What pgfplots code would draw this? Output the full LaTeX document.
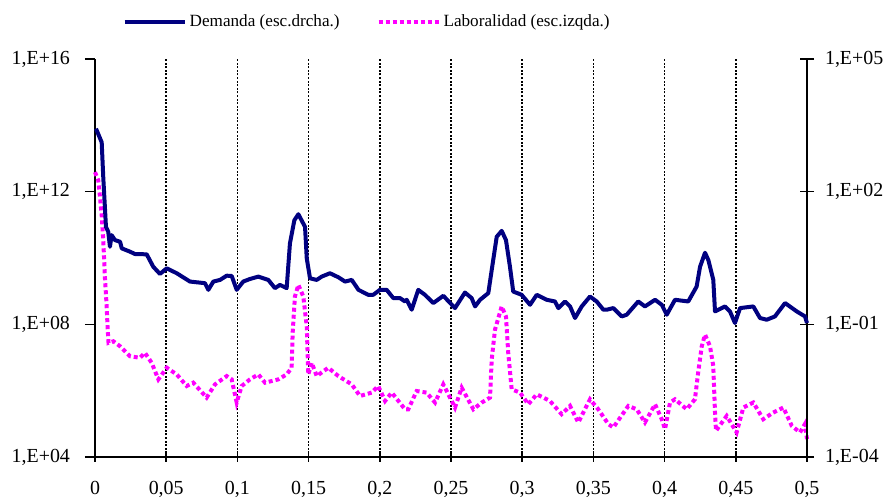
\documentclass[border=0pt]{standalone}
\usepackage{pgfplots}
\pgfplotsset{compat=1.18}
\usepackage{fontspec}
\setmainfont{Liberation Serif}
\definecolor{navyc}{RGB}{0,0,128}
\definecolor{magc}{RGB}{255,0,255}
\pgfplotstableread{
x y
0.0000 3.88e12
0.0023 2.19e12
0.0035 6.90e11
0.0047 1.95e11
0.0058 3.47e10
0.0070 2.46e9
0.0082 3.46e8
0.0088 8.69e7
0.0095 2.76e7
0.0129 3.08e7
0.0176 2.18e7
0.0246 1.09e7
0.0316 9.79e6
0.0351 1.38e7
0.0398 6.93e6
0.0445 2.19e6
0.0504 4.91e6
0.0574 3.09e6
0.0644 1.38e6
0.0690 1.74e6
0.0784 6.18e5
0.0843 1.55e6
0.0925 2.75e6
0.0960 2.19e6
0.0995 4.38e5
0.1030 1.38e6
0.1088 2.19e6
0.1147 3.09e6
0.1194 1.74e6
0.1241 1.95e6
0.1287 2.19e6
0.1346 3.09e6
0.1381 4.91e6
0.1388 5.51e7
0.1404 6.90e8
0.1428 1.55e9
0.1463 6.90e8
0.1487 8.69e7
0.1498 3.09e6
0.1522 6.93e6
0.1557 2.75e6
0.1638 4.91e6
0.1709 2.75e6
0.1803 1.55e6
0.1861 6.90e5
0.1943 8.73e5
0.1989 1.38e6
0.2037 4.89e5
0.2084 8.73e5
0.2177 2.75e5
0.2200 2.75e5
0.2259 9.75e5
0.2329 8.73e5
0.2388 4.38e5
0.2446 1.55e6
0.2528 3.10e5
0.2575 1.23e6
0.2657 2.75e5
0.2716 4.38e5
0.2774 6.18e5
0.2786 8.71e6
0.2809 6.92e7
0.2856 3.46e8
0.2886 1.73e8
0.2902 1.38e7
0.2926 1.10e6
0.2985 8.73e5
0.3043 3.89e5
0.3102 7.76e5
0.3195 4.89e5
0.3277 1.95e5
0.3336 3.46e5
0.3394 1.10e5
0.3476 5.50e5
0.3534 2.75e5
0.3605 9.77e4
0.3640 7.78e4
0.3745 3.46e5
0.3804 2.75e5
0.3862 1.10e5
0.3933 3.89e5
0.3980 1.38e5
0.4003 6.92e4
0.4038 4.38e5
0.4073 5.50e5
0.4155 2.75e5
0.4213 5.50e5
0.4237 3.88e6
0.4261 2.18e7
0.4284 4.90e7
0.4319 2.18e7
0.4342 5.48e6
0.4354 2.19e5
0.4361 6.15e4
0.4436 1.73e5
0.4471 9.77e4
0.4506 5.51e4
0.4553 3.10e5
0.4623 4.38e5
0.4693 1.38e5
0.4763 2.19e5
0.4834 3.10e5
0.4893 8.69e4
0.4951 5.51e4
0.4985 9.77e4
0.5000 3.47e4
}\laboralidad
\pgfplotstableread{
x y
0.0007 2660
0.0047 1310
0.0058 213
0.0077 16.0
0.0093 12.4
0.0105 5.68
0.0117 10.4
0.0140 8.04
0.0176 7.36
0.0188 5.22
0.0246 4.39
0.0281 3.89
0.0363 3.83
0.0409 2.01
0.0456 1.38
0.0504 1.85
0.0574 1.43
0.0667 0.927
0.0772 0.853
0.0796 0.603
0.0831 0.927
0.0878 1.01
0.0925 1.26
0.0960 1.24
0.0995 0.603
0.1041 0.927
0.1088 1.06
0.1147 1.20
0.1217 1.01
0.1264 0.658
0.1299 0.780
0.1346 0.658
0.1369 6.78
0.1400 22.6
0.1428 30.9
0.1475 16.0
0.1487 3.11
0.1510 1.10
0.1557 1.01
0.1592 1.20
0.1650 1.43
0.1709 1.16
0.1756 0.927
0.1803 1.01
0.1850 0.603
0.1919 0.465
0.1954 0.465
0.2001 0.603
0.2048 0.603
0.2095 0.392
0.2142 0.392
0.2177 0.329
0.2189 0.359
0.2224 0.214
0.2270 0.603
0.2317 0.465
0.2376 0.303
0.2446 0.442
0.2528 0.233
0.2598 0.524
0.2645 0.392
0.2669 0.254
0.2704 0.359
0.2762 0.508
0.2786 1.70
0.2821 9.53
0.2856 13.0
0.2886 8.04
0.2914 2.01
0.2937 0.552
0.2996 0.465
0.3055 0.277
0.3102 0.465
0.3172 0.359
0.3230 0.329
0.3254 0.233
0.3301 0.329
0.3336 0.254
0.3371 0.139
0.3418 0.254
0.3476 0.426
0.3523 0.329
0.3570 0.214
0.3593 0.214
0.3640 0.233
0.3699 0.151
0.3734 0.165
0.3815 0.329
0.3862 0.254
0.3933 0.359
0.3980 0.277
0.4015 0.165
0.4073 0.359
0.4166 0.329
0.4225 0.715
0.4249 2.01
0.4284 4.16
0.4307 2.85
0.4342 1.01
0.4354 0.196
0.4424 0.254
0.4459 0.196
0.4494 0.107
0.4530 0.233
0.4623 0.254
0.4670 0.139
0.4717 0.127
0.4775 0.151
0.4846 0.303
0.4928 0.196
0.4986 0.151
0.5000 0.107
}\demanda
\begin{document}
\begin{tikzpicture}
\useasboundingbox (-47.5bp,-21.5bp) rectangle (398bp,228.5bp);
\begin{axis}[
  at={(0,0)}, anchor=south west,
  scale only axis, width=356bp, height=199bp,
  xmin=0, xmax=0.5,
  ymode=log, ymin=1e4, ymax=1e16,
  axis x line*=bottom, axis y line*=left,
  axis line style={-, line width=0.8bp, black},
  xtick={0,0.05,0.1,0.15,0.2,0.25,0.3,0.35,0.4,0.45,0.5},
  xticklabels={0,{0,05},{0,1},{0,15},{0,2},{0,25},{0,3},{0,35},{0,4},{0,45},{0,5}},
  ytick={1e4,1e8,1e12,1e16},
  yticklabels={{1,E+04},{1,E+08},{1,E+12},{1,E+16}},
  yminorticks=false, xminorticks=false,
  xtick align=center, ytick align=outside,
  major tick length=5bp,
  tick style={black, line width=0.8bp},
  xmajorgrids,
  grid style={black, line width=0.75bp, dash pattern=on 1bp off 0.8bp},
  xticklabel style={yshift=-6bp},
  yticklabel style={xshift=-4bp},
  clip=false,
]
\addplot[magc, line width=2bp, dash pattern=on 2bp off 1.5bp] table[x=x,y=y] {\laboralidad};
\end{axis}
\begin{axis}[
  at={(0,0)}, anchor=south west,
  scale only axis, width=356bp, height=199bp,
  xmin=0, xmax=0.5,
  ymode=log, ymin=1e-4, ymax=1e5,
  axis x line=none, axis y line*=right,
  axis line style={-, line width=0.8bp, black},
  ytick={1e-4,1e-1,1e2,1e5},
  yticklabels={{1,E-04},{1,E-01},{1,E+02},{1,E+05}},
  yminorticks=false,
  ytick align=center,
  major tick length=7bp,
  tick style={black, line width=0.8bp},
  yticklabel style={xshift=2bp},
  clip=false,
  legend columns=2,
  legend style={draw=none, fill=none, at={(0.383,1.093)}, anchor=center,
    font=\fontsize{8.6}{10}\selectfont,
    /tikz/every even column/.append style={column sep=17bp},
    nodes={inner sep=1.5bp}},
  legend image code/.code={\draw[#1] (0bp,0bp) -- (30bp,0bp);},
]
\addplot[navyc, line width=2bp, line join=round] table[x=x,y=y] {\demanda};
\addlegendentry{Demanda (esc.drcha.)}
\addlegendimage{magc, line width=2bp, dash pattern=on 2bp off 1.5bp}
\addlegendentry{Laboralidad (esc.izqda.)}
\end{axis}
\end{tikzpicture}
\end{document}
